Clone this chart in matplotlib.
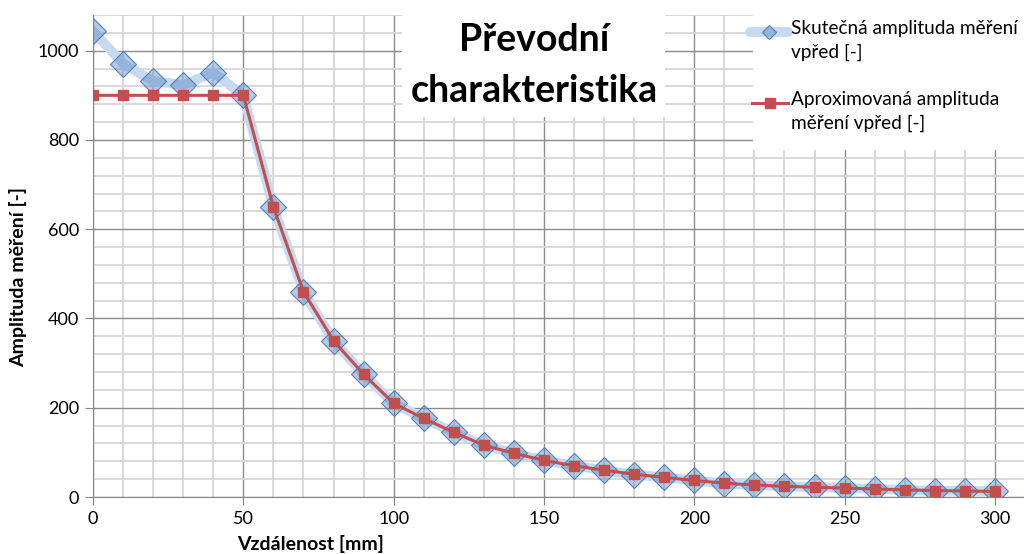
import matplotlib as mpl
mpl.use('Agg')
import matplotlib.pyplot as plt
from matplotlib.lines import Line2D
from matplotlib.patches import Rectangle
import numpy as np

plt.rcParams['font.family'] = ['Lato', 'DejaVu Sans']

# distance [mm]
distance = [0, 10, 20, 30, 40, 50, 60, 70, 80, 90, 100, 110, 120, 130, 140, 150,
            160, 170, 180, 190, 200, 210, 220, 230, 240, 250, 260, 270, 280, 290, 300]
# measured amplitude (front)
measured = [1044, 971, 932, 923, 951, 900, 650, 460, 350, 275, 210, 176, 145, 116, 98, 82,
            70, 60, 50, 44, 37, 30, 27, 24, 22, 20, 18.5, 15.5, 14, 14, 12.6]
# approximated amplitude (front)
approx = [900, 900, 900, 900, 900, 900, 650, 460, 350, 275, 210, 176, 145, 116, 98, 82,
          70, 60, 51, 44, 37, 31, 27, 24, 22, 20, 18, 16, 14.5, 13.5, 12.5]

label_measured = 'Skutečná amplituda měření\nvpřed [-]'
label_approx = 'Aproximovaná amplituda\nměření vpřed [-]'

BLUE = '#4f81bd'
BLUE_LINE = '#c6d9f1'
RED = '#c0504d'

fig = plt.figure(figsize=(10.24, 5.54), dpi=100)
ax = fig.add_axes([93 / 1024, 57 / 554, 932 / 1024, 482 / 554])

ax.set_xlim(0, 310)
ax.set_ylim(0, 1080)
ax.set_xticks(np.arange(0, 301, 50))
ax.set_xticks(np.arange(0, 311, 10), minor=True)
ax.set_yticks(np.arange(0, 1001, 200))
ax.set_yticks(np.arange(0, 1081, 40), minor=True)
ax.grid(which='minor', color='#d6d6d6', linewidth=1.3, zorder=0)
ax.grid(which='major', color='#8c8c8c', linewidth=1.0, zorder=0)
ax.set_axisbelow(True)

for s in ['top', 'right']:
  ax.spines[s].set_visible(False)
for s in ['left', 'bottom']:
  ax.spines[s].set_color('#868686')
ax.tick_params(which='major', length=6, color='#868686', labelsize=13, pad=4)
ax.tick_params(which='minor', length=0)

ax.plot(distance, measured, color=BLUE_LINE, linewidth=7, solid_joinstyle='round',
        solid_capstyle='round', zorder=2)
ax.plot(distance, measured, linestyle='none', marker='D', markersize=13,
        markerfacecolor=(0.31, 0.51, 0.74, 0.42), markeredgecolor=BLUE,
        markeredgewidth=0.8, zorder=3)
ax.plot(distance, approx, color=RED, linewidth=2.2, marker='s', markersize=6.5,
        markeredgecolor=RED, markerfacecolor=RED, zorder=4)

ax.set_xlabel('Vzdálenost [mm]', fontsize=14, fontweight='bold')
ax.xaxis.set_label_coords(0.233, -0.079)
ax.set_ylabel('Amplituda měření [-]', fontsize=14, fontweight='bold')
ax.yaxis.set_label_coords(-0.071, 0.456)

# title on a white box
fig.patches.append(Rectangle((402 / 1024, 1 - 117 / 554), 263 / 1024, 102 / 554,
                             transform=fig.transFigure, facecolor='white',
                             edgecolor='none', zorder=5))
fig.text(534 / 1024, 1 - 40 / 554, 'Převodní', ha='center', va='center',
         fontsize=27, fontweight='bold', zorder=6)
fig.text(534 / 1024, 1 - 91 / 554, 'charakteristika', ha='center', va='center',
         fontsize=27, fontweight='bold', zorder=6)

# legend on a white box
fig.patches.append(Rectangle((753 / 1024, 1 - 150 / 554), 271 / 1024, 135 / 554,
                             transform=fig.transFigure, facecolor='white',
                             edgecolor='none', zorder=5))
fig.lines.append(Line2D([750 / 1024, 788 / 1024], [1 - 32 / 554] * 2,
                        transform=fig.transFigure, color=BLUE_LINE, linewidth=7,
                        solid_capstyle='round', zorder=6))
fig.lines.append(Line2D([769 / 1024], [1 - 32 / 554], transform=fig.transFigure,
                        marker='D', markersize=7, markerfacecolor=(0.31, 0.51, 0.74, 0.42),
                        markeredgecolor=BLUE, markeredgewidth=0.8, zorder=7))
fig.lines.append(Line2D([752 / 1024, 788 / 1024], [1 - 103 / 554] * 2,
                        transform=fig.transFigure, color=RED, linewidth=2.2, zorder=6))
fig.lines.append(Line2D([770 / 1024], [1 - 103 / 554], transform=fig.transFigure,
                        marker='s', markersize=6.5, color=RED, zorder=7))
fig.text(791 / 1024, 1 - 20 / 554, label_measured, ha='left', va='top',
         fontsize=13.7, linespacing=1.45, zorder=7)
fig.text(791 / 1024, 1 - 91 / 554, label_approx, ha='left', va='top',
         fontsize=13.7, linespacing=1.45, zorder=7)

fig.savefig('out.png', dpi=100)
